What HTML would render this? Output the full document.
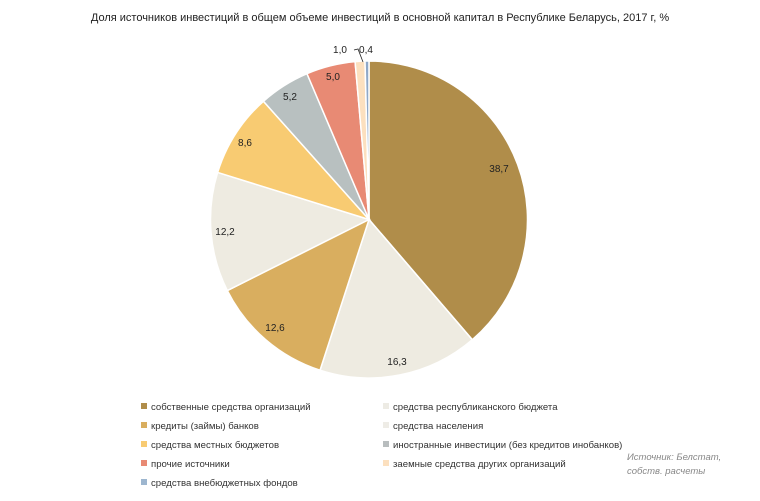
<!DOCTYPE html>
<html><head><meta charset="utf-8"><style>
body{margin:0;background:#fff;width:760px;height:496px;overflow:hidden;font-family:"Liberation Sans",sans-serif}
</style></head><body>
<svg width="760" height="496" xmlns="http://www.w3.org/2000/svg" font-family="Liberation Sans, sans-serif">
<text x="380" y="21" font-size="11" text-anchor="middle" fill="#222">Доля источников инвестиций в общем объеме инвестиций в основной капитал в Республике Беларусь,  2017 г, %</text>
<g id="pie"></g>
<g font-size="10" fill="#222" text-anchor="middle">
<text x="499" y="172">38,7</text>
<text x="397" y="365">16,3</text>
<text x="275" y="331">12,6</text>
<text x="225" y="235">12,2</text>
<text x="245" y="146">8,6</text>
<text x="290" y="100">5,2</text>
<text x="333" y="80">5,0</text>
<text x="340" y="53">1,0</text>
<text x="366" y="53">0,4</text>
</g>
<path d="M354,50 L358,49 L363,62" stroke="#222" fill="none" stroke-width="0.8"/>
<g font-size="9.6" fill="#333">
<rect x="141" y="403" width="6" height="6" fill="#B08D4A"/><text x="151" y="410">собственные средства организаций</text>
<rect x="141" y="422" width="6" height="6" fill="#D9AE5F"/><text x="151" y="429">кредиты (займы) банков</text>
<rect x="141" y="441" width="6" height="6" fill="#F8CB72"/><text x="151" y="448">средства местных бюджетов</text>
<rect x="141" y="460" width="6" height="6" fill="#E88A74"/><text x="151" y="467">прочие источники</text>
<rect x="141" y="479" width="6" height="6" fill="#9DB6CF"/><text x="151" y="486">средства внебюджетных фондов</text>
<rect x="383" y="403" width="6" height="6" fill="#EDEBE4"/><text x="393" y="410">средства республиканского бюджета</text>
<rect x="383" y="422" width="6" height="6" fill="#EEECE6"/><text x="393" y="429">средства населения</text>
<rect x="383" y="441" width="6" height="6" fill="#B8BDBE"/><text x="393" y="448">иностранные инвестиции  (без кредитов инобанков)</text>
<rect x="383" y="460" width="6" height="6" fill="#FCE0BF"/><text x="393" y="467">заемные средства других организаций</text>
</g>
<g font-size="9.5" fill="#888" font-style="italic">
<text x="627" y="460">Источник: Белстат,</text>
<text x="627" y="474">собств. расчеты</text>
</g>
</svg>
<script>
var d=[[38.7,"#B08D4A"],[16.3,"#EEEBE1"],[12.6,"#D9AE5F"],[12.2,"#EEEBE1"],[8.6,"#F8CB72"],[5.2,"#B8C0C0"],[5.0,"#E88A74"],[1.0,"#FCE0BF"],[0.4,"#8FA8C8"]];
var cx=369,cy=219.5,r=158.5,a=0,s="";
d.forEach(function(e){var a2=a+e[0]/100*2*Math.PI;
var x1=cx+r*Math.sin(a),y1=cy-r*Math.cos(a),x2=cx+r*Math.sin(a2),y2=cy-r*Math.cos(a2);
s+='<path d="M'+cx+','+cy+' L'+x1+','+y1+' A'+r+','+r+' 0 '+(a2-a>Math.PI?1:0)+' 1 '+x2+','+y2+' Z" fill="'+e[1]+'" stroke="#fff" stroke-width="1.5"/>';a=a2;});
document.getElementById("pie").innerHTML=s;
</script>
</body></html>
